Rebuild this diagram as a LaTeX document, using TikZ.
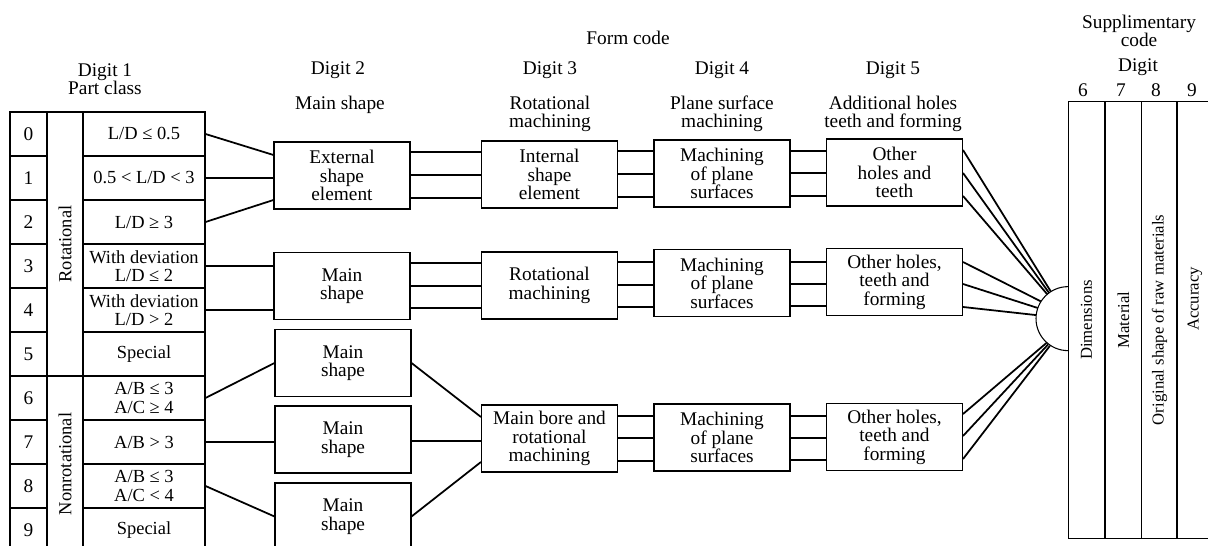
\documentclass[tikz,border=0pt]{standalone}
\usepackage{fontspec}
\setmainfont{Liberation Serif}
\usetikzlibrary{positioning}

\begin{document}
\begin{tikzpicture}
    [ x = .02cm, y = .02cm
    , every node/.style =
      { font = \fontsize{11}{10.5}\selectfont, align = center, inner sep = 0pt }
    , box/.style =
      { draw, line width = .6pt, minimum width = 2.72cm, minimum height = 1.34cm }
    , cell/.style =
      { draw, line width = .6pt, minimum height = .88cm }
    , digitcell/.style =
      { cell, minimum width = .74cm }
    , classcell/.style =
      { cell, minimum width = 2.44cm, font = \fontsize{10.5}{10.5}\selectfont }
    , band/.style =
      { draw, line width = .6pt, rotate = 90, minimum height = .72cm
      , font = \fontsize{10.5}{10.5}\selectfont }
    , column/.style =
      { draw, line width = .6pt, rotate = 90, minimum width = 8.76cm
      , minimum height = .73cm, font = \fontsize{9.5}{9.5}\selectfont }
    , hub/.style =
      { circle, minimum size = 1.28cm }
    , link/.style =
      { line width = 1pt }
    ]
    \useasboundingbox (0,0) rectangle (1208,-546);

    % headings
    \node (form) at (628,-38) {Form code};
    \node (head1) at (105,-79) {Digit 1\\Part class};
    \node (head2) at (338,-70) {Digit 2};
    \node (head3) at (550,-70) {Digit 3};
    \node (head4) at (722,-70) {Digit 4};
    \node (head5) at (893,-70) {Digit 5};
    \node (sub2) at (340,-105) {Main shape};
    \node (sub3) at (550,-114) {Rotational\\machining};
    \node (sub4) at (722,-114) {Plane surface\\machining};
    \node (sub5) at (893,-114) {Additional holes\\teeth and forming};
    \node (supp) at (1139,-31) {Supplimentary\\code};
    \node (digit) at (1138,-67) {Digit};

    % digit 1: part class
    \foreach \d/\txt in {0/{L/D ≤ 0.5}, 1/{0.5 < L/D < 3}, 2/{L/D ≥ 3},
        3/{With deviation\\L/D ≤ 2}, 4/{With deviation\\L/D > 2}, 5/Special,
        6/{A/B ≤ 3\\A/C ≥ 4}, 7/{A/B > 3}, 8/{A/B ≤ 3\\A/C < 4}, 9/Special}
    {
      \node [digitcell] (n\d) at (28.5,-134-44*\d) {\d};
      \node [classcell] (c\d) at (144,-134-44*\d) {\txt};
    }
    \node [band, minimum width = 5.28cm] (rot) at (65,-244) {Rotational};
    \node [band, minimum width = 3.52cm] (nonrot) at (65,-464) {Nonrotational};

    % digits 2 to 5
    \node [box] (ext) at (342,-175.5) {External\\shape\\element};
    \node [box] (ms1) at (342,-286) {Main\\shape};
    \node [box] (ms2) at (343,-363) {Main\\shape};
    \node [box] (ms3) at (343,-439.5) {Main\\shape};
    \node [box] (ms4) at (343,-516.5) {Main\\shape};
    \node [box] (int) at (549.5,-174.5) {Internal\\shape\\element};
    \node [box] (rm) at (549.5,-285.5) {Rotational\\machining};
    \node [box] (bore) at (549.5,-438.5) {Main bore and\\rotational\\machining};
    \node [box] (pl1) at (722,-173.5) {Machining\\of plane\\surfaces};
    \node [box] (pl2) at (722,-283) {Machining\\of plane\\surfaces};
    \node [box] (pl3) at (722,-437.5) {Machining\\of plane\\surfaces};
    \node [box] (oh1) at (894.5,-172.5) {Other\\holes and\\teeth};
    \node [box] (oh2) at (894.5,-282) {Other holes,\\teeth and\\forming};
    \node [box] (oh3) at (894.5,-437) {Other holes,\\teeth and\\forming};

    % supplementary code
    \foreach \d/\x in {6/1083, 7/1121, 8/1156, 9/1192}
      \node (d\d) at (\x,-90) {\d};
    \foreach \d/\x/\txt in {6/1086.5/Dimensions, 7/1123.5/Material,
        8/1159.5/{Original shape of raw materials}, 9/1195/{\hspace*{.84cm}Accuracy}}
      \node [column] (s\d) at (\x,-320) {\txt};
    \node [hub] (hub) at (1068,-319) {};
    \draw [line width = .6pt] (hub.north) arc [start angle = 90, end angle = 270, radius = .64cm];

    % digit 1 to digit 2
    \draw [link] (c0.east) -- (ext.west |- 0,-155);
    \draw [link] (c1.east) -- (ext.west |- c1.east);
    \draw [link] (c2.east) -- (ext.west |- 0,-200);
    \draw [link] (c3.east) -- (ms1.west |- c3.east);
    \draw [link] (c4.east) -- (ms1.west |- c4.east);
    \draw [link] (c6.east) -- (ms2.west);
    \draw [link] (c7.east) -- (ms3.west |- c7.east);
    \draw [link] (c8.east) -- (ms4.west);

    % digit 2 to digit 3
    \foreach \y in {152,175,198}
      \draw [link] (ext.east |- 0,-\y) -- (int.west |- 0,-\y);
    \foreach \y in {263,286,308}
      \draw [link] (ms1.east |- 0,-\y) -- (rm.west |- 0,-\y);
    \draw [link] (ms2.east) -- (bore.west |- 0,-417);
    \draw [link] (ms3.east |- 0,-441) -- (bore.west |- 0,-441);
    \draw [link] (ms4.east) -- (bore.west |- 0,-462);

    % digit 3 to digit 4
    \foreach \y in {151,174,197}
      \draw [link] (int.east |- 0,-\y) -- (pl1.west |- 0,-\y);
    \foreach \y in {262,285,307}
      \draw [link] (rm.east |- 0,-\y) -- (pl2.west |- 0,-\y);
    \foreach \y in {416,438,461}
      \draw [link] (bore.east |- 0,-\y) -- (pl3.west |- 0,-\y);

    % digit 4 to digit 5
    \foreach \y in {151,173,196}
      \draw [link] (pl1.east |- 0,-\y) -- (oh1.west |- 0,-\y);
    \foreach \y in {262,284,306}
      \draw [link] (pl2.east |- 0,-\y) -- (oh2.west |- 0,-\y);
    \foreach \y in {416,438,460}
      \draw [link] (pl3.east |- 0,-\y) -- (oh3.west |- 0,-\y);

    % digit 5 to the supplementary code
    \foreach \y/\a in {150/122, 173/126, 196/130}
      \draw [link] (oh1.east |- 0,-\y) -- (hub.\a);
    \foreach \y/\a in {262/147, 284/160, 307/173}
      \draw [link] (oh2.east |- 0,-\y) -- (hub.\a);
    \foreach \y/\a in {414/228, 436/232, 459/236}
      \draw [link] (oh3.east |- 0,-\y) -- (hub.\a);
\end{tikzpicture}
\end{document}
